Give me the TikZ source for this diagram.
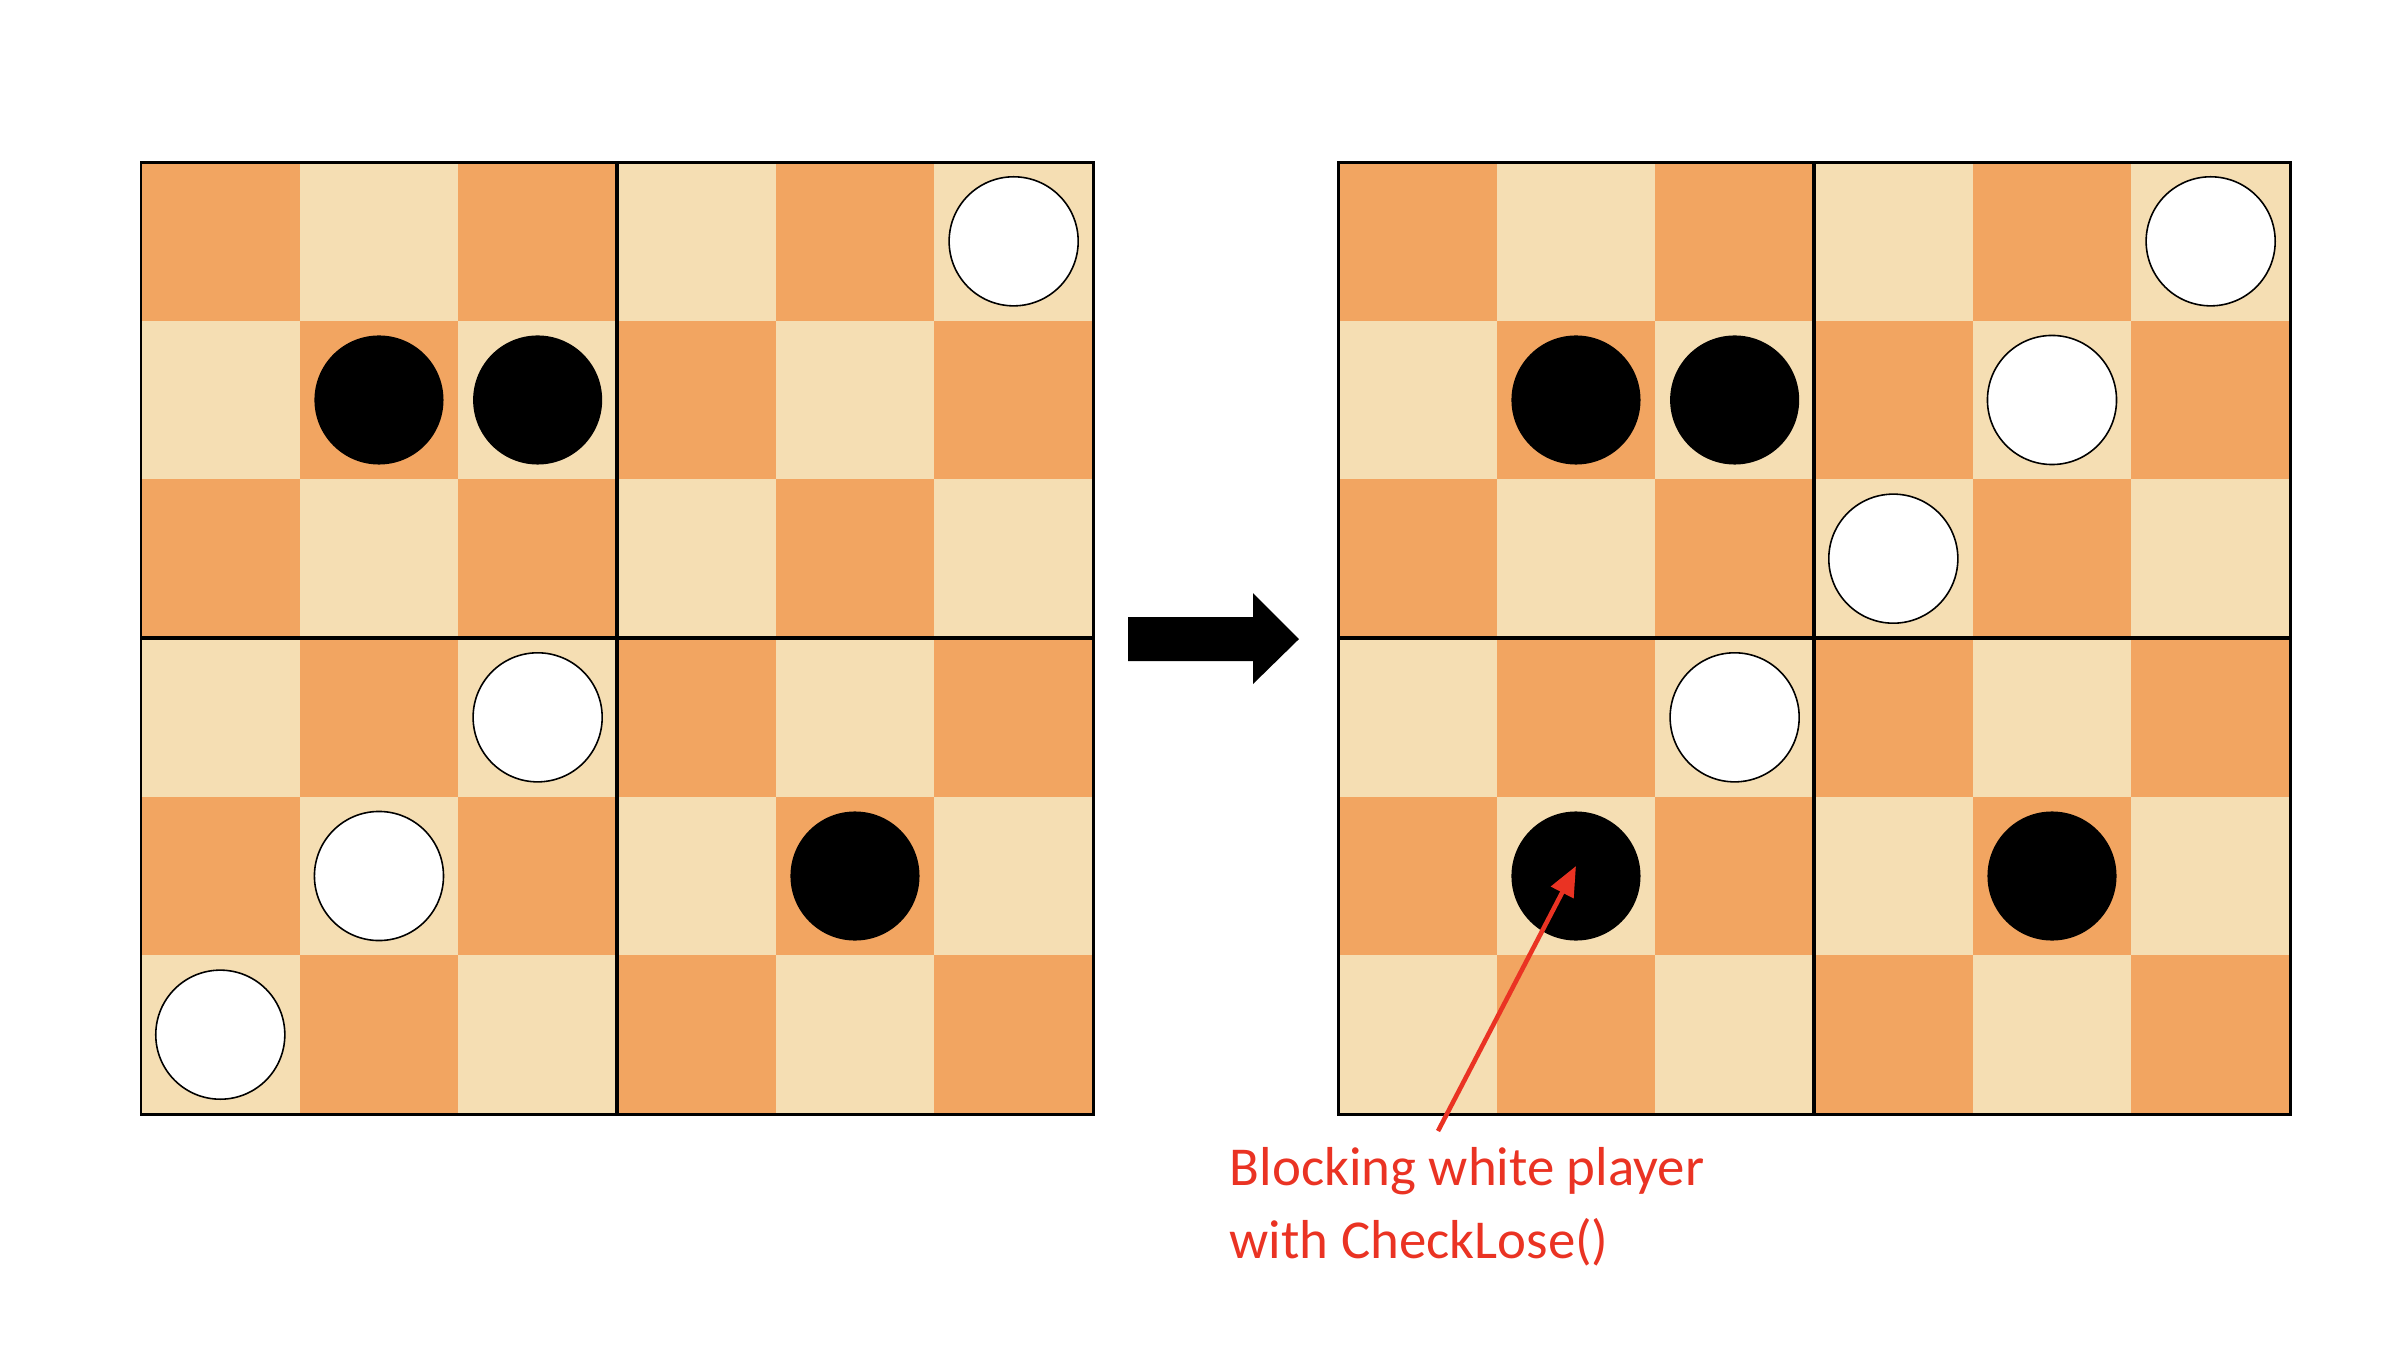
\documentclass[tikz,border=0pt]{standalone}
\usepackage{fontspec}
\setmainfont{Carlito}
\usetikzlibrary{arrows.meta}

\definecolor{darksquare}{HTML}{F2A561}
\definecolor{lightsquare}{HTML}{F5DEB3}
\definecolor{notered}{HTML}{EA3323}

\begin{document}
\begin{tikzpicture}[x = 0.01cm, y = -0.01cm,
	whitepiece/.style = {circle, draw = black, line width = 0.45pt, fill = white, minimum size = 1.29cm, inner sep = 0pt},
	blackpiece/.style = {circle, fill = black, minimum size = 1.29cm, inner sep = 0pt},
	note/.style = {anchor = north west, inner sep = 0pt, align = left, text = notered, font = \fontsize{15.6}{20.6}\selectfont}]

	\useasboundingbox (0, 0) rectangle (2406, 1344);

	% Boards
	
	\foreach \bx in {141, 1338} {
		\foreach \r in {0, ..., 5} {
			\foreach \c in {0, ..., 5} {
				\pgfmathtruncatemacro{\parity}{mod(\r + \c, 2)}
				\ifnum \parity = 0 \def\sq{darksquare} \else \def\sq{lightsquare} \fi
				\fill [\sq] (\bx + \c * 158.67, 162 + \r * 158.67) rectangle ++(159.1, 159.1);
			}
		}
		\draw [line width = 0.85pt] (\bx, 162) rectangle ++(952, 952);
		\draw [line width = 1.15pt] (\bx + 476, 162) -- ++(0, 952);
		\draw [line width = 1.15pt] (\bx, 638) -- ++(952, 0);
	}
	
	% Pieces, left board
	
	\foreach \r / \c in {0/5, 3/2, 4/1, 5/0}
		\node [whitepiece] (lw\r\c) at (141 + \c * 158.67 + 79.3, 162 + \r * 158.67 + 79.3) {};
	\foreach \r / \c in {1/1, 1/2, 4/4}
		\node [blackpiece] (lb\r\c) at (141 + \c * 158.67 + 79.3, 162 + \r * 158.67 + 79.3) {};
	
	% Pieces, right board
	
	\foreach \r / \c in {0/5, 1/4, 2/3, 3/2}
		\node [whitepiece] (rw\r\c) at (1338 + \c * 158.67 + 79.3, 162 + \r * 158.67 + 79.3) {};
	\foreach \r / \c in {1/1, 1/2, 4/1, 4/4}
		\node [blackpiece] (rb\r\c) at (1338 + \c * 158.67 + 79.3, 162 + \r * 158.67 + 79.3) {};
	
	% Move arrow
	
	\fill [black] (1128, 617) -- (1253, 617) -- (1253, 593) -- (1299, 639) -- (1253, 684) -- (1253, 661) -- (1128, 661) -- cycle;
	
	% Note + pointer
	
	\node [note] (note) at (1229, 1147) {Blocking white player\\with CheckLose()};
	\coordinate (tail) at (1438, 1131);
	
	\draw [-{Triangle[length = 8.5pt, width = 7pt]}, line width = 1.3pt, notered] (tail) -- ([yshift = 0.1cm] rb41.center);
	
\end{tikzpicture}
\end{document}
